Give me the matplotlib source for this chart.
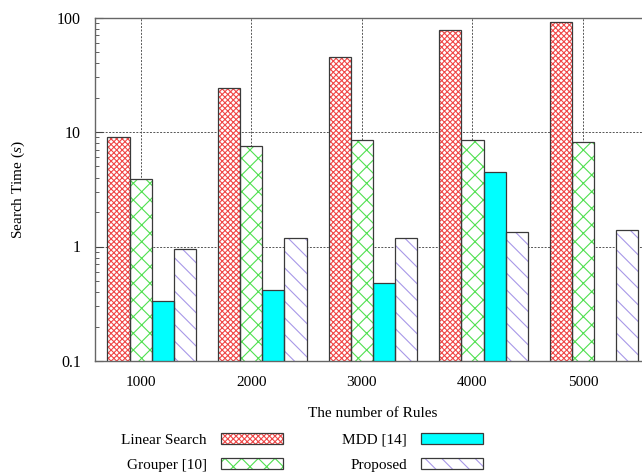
import numpy as np
import matplotlib
matplotlib.use('Agg')
import matplotlib.pyplot as plt
from matplotlib.patches import Patch
from matplotlib.legend_handler import HandlerTuple
from matplotlib.ticker import LogLocator, NullFormatter, FixedLocator, FixedFormatter

plt.rcParams['font.family'] = ['Liberation Serif', 'DejaVu Serif']
plt.rcParams['mathtext.fontset'] = 'custom'
plt.rcParams['mathtext.it'] = 'Liberation Serif:italic'
plt.rcParams['mathtext.rm'] = 'Liberation Serif'
plt.rcParams['hatch.linewidth'] = 0.8

rules = ['1000', '2000', '3000', '4000', '5000']
linear = [9.0, 24.0, 45.6, 77.0, 91.5]
grouper = [3.87, 7.5, 8.5, 8.5, 8.15]
mdd = [0.334, 0.414, 0.476, 4.46, np.nan]
proposed = [0.95, 1.18, 1.18, 1.35, 1.38]

names = ['Linear Search', 'Grouper [10]', 'MDD [14]', 'Proposed']
series = [linear, grouper, mdd, proposed]
hatch_col = ['#f04848', '#50e050', '#00ffff', '#a898e8']
fills = ['white', 'white', '#00ffff', 'white']
hatches = ['xxxxxx', 'xx', None, '\\\\']
offsets = [-0.2, 0.0, 0.2, 0.4]
edge = '#3a3a3a'

fig = plt.figure(figsize=(6.42, 4.72), dpi=100)
ax = fig.add_axes([95 / 642, 111 / 472, 555 / 642, 343.5 / 472])

x = np.arange(len(rules))
w = 0.2
handles = []
for vals, hc, fc, h, off in zip(series, hatch_col, fills, hatches, offsets):
    ax.bar(x + off, vals, w, color=fc, edgecolor=hc, hatch=h, linewidth=0, zorder=2)
    ax.bar(x + off, vals, w, fill=False, edgecolor=edge, linewidth=0.9, zorder=3)
    p1 = Patch(facecolor=fc, edgecolor=hc, hatch=h, linewidth=0)
    p2 = Patch(fill=False, edgecolor=edge, linewidth=0.9)
    handles.append((p1, p2))

ax.set_yscale('log')
ax.set_ylim(0.1, 100)
ax.set_xlim(-0.413, 4.605)

ax.yaxis.set_major_locator(FixedLocator([0.1, 1, 10, 100]))
ax.yaxis.set_major_formatter(FixedFormatter(['0.1', '1', '10', '100']))
ax.yaxis.set_minor_locator(LogLocator(base=10, subs=np.arange(2, 10)))
ax.yaxis.set_minor_formatter(NullFormatter())
ax.tick_params(axis='y', which='major', direction='in', length=6, width=0.8, color='#444444', labelsize=11.5, pad=10)
ax.tick_params(axis='y', which='minor', direction='in', length=3, width=0.6, color='#444444')
ax.set_xticks(x)
ax.set_xticklabels(rules)
ax.tick_params(axis='x', length=0, labelsize=11, pad=11)

ax.grid(True, which='major', linestyle=(0, (2, 1.5)), color='#555555', linewidth=0.7, zorder=1)
ax.set_axisbelow(True)
for s in ax.spines.values():
    s.set_color('#666666')
    s.set_linewidth(1.0)

ax.set_xlabel('The number of Rules', fontsize=11)
ax.xaxis.set_label_coords(0.5, -0.154)
ax.xaxis.label.set_va('center')
ax.set_ylabel('Search Time ($s$)', fontsize=11)
ax.yaxis.set_label_coords(-0.139, 0.5)
ax.yaxis.label.set_va('center')

ax.legend(handles, names,
          handler_map={tuple: HandlerTuple(ndivide=1, pad=0)},
          ncol=2, markerfirst=False, frameon=False, fontsize=11,
          handlelength=4.0, handleheight=0.75, handletextpad=0.95,
          columnspacing=3.9, labelspacing=0.75, borderpad=0,
          loc='upper center', bbox_to_anchor=(302 / 642, 1 - 425 / 472),
          bbox_transform=fig.transFigure)

fig.savefig('out.png', dpi=100)
